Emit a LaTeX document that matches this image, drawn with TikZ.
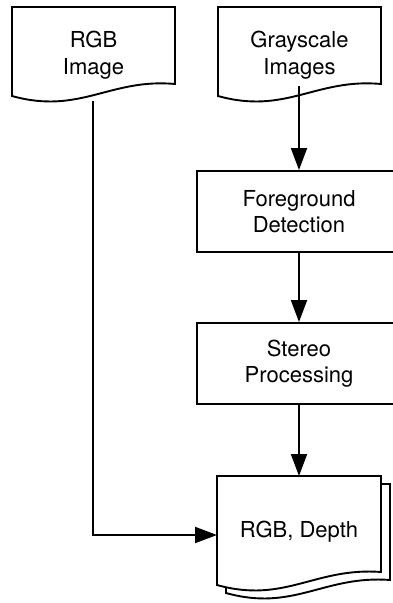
\documentclass[tikz,border=0pt]{standalone}
\usepackage{fontspec}
\setmainfont{TeX Gyre Heros}
\usetikzlibrary{arrows.meta}
\tikzset{
  x=1pt, y=-1pt,
  every node/.style={font=\fontsize{22}{26.5}\selectfont, align=center},
  outline/.style={draw=black, line width=1.9pt, fill=white, line join=miter},
  procbox/.style={outline, minimum width=204pt, minimum height=81pt, inner sep=0pt},
  flow/.style={draw=black, line width=1.9pt, -{Triangle[length=22pt, width=16pt]}},
}
\begin{document}
\begin{tikzpicture}
  \useasboundingbox (0,0) rectangle (393,603);
  \clip (0,0) rectangle (393,603);

  % input documents
  \draw[outline] (12,96) -- (12,7) -- (175,7) -- (175,84)
        .. controls (110,78) and (80,115) .. (12,96) -- cycle;
  \draw[outline] (218,96) -- (218,7) -- (381,7) -- (381,84)
        .. controls (316,78) and (286,115) .. (218,96) -- cycle;
  \node (rgb)  at (93.5,55) {RGB\\Image};
  \node (gray) at (299.5,55) {Grayscale\\Images};
  \coordinate (rgbout)  at (93,101);
  \coordinate (grayout) at (299,86);

  % processing steps
  \node[procbox] (fg) at (299,211.5) {Foreground\\Detection};
  \node[procbox] (st) at (299,363.5) {Stereo\\Processing};

  % output document (stacked)
  \draw[outline] (226,593) -- (226,484) -- (390,484) -- (390,580)
        .. controls (324,575) and (294,612) .. (226,593) -- cycle;
  \draw[outline] (217,585) -- (217,476) -- (381,476) -- (381,572)
        .. controls (315,567) and (285,604) .. (217,585) -- cycle;
  \node (out) at (299,532) {RGB, Depth};
  \coordinate (outtop) at (299,476);
  \coordinate (outin)  at (217,535);

  % connectors
  \draw[flow] (grayout) -- (fg.north);
  \draw[flow] (fg.south) -- (st.north);
  \draw[flow] (st.south) -- (outtop);
  \draw[flow] (rgbout) |- (outin);
\end{tikzpicture}
\end{document}
